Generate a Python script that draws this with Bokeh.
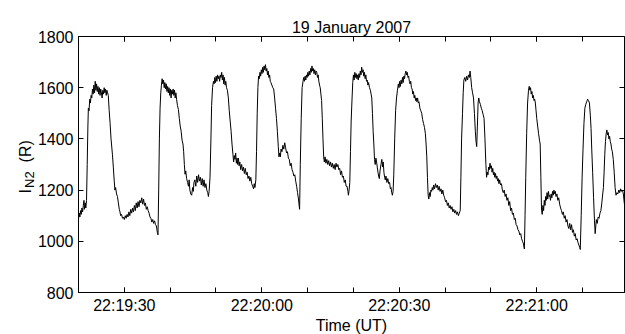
import pandas as pd
from bokeh.plotting import figure
from bokeh.models import (ColumnDataSource, DatetimeTickFormatter, FixedTicker, Range1d,
                          Label, DatetimeAxis, LinearAxis, CustomJSTickFormatter)
from bokeh.embed import file_html
from bokeh.resources import INLINE

# ---------------- data ----------------
title_text = "19 January 2007"
start_time = "2007-01-19 22:19:20"
x_end_s = 119.15
x_label = "Time (UT)"
x_major_labels = ["22:19:30", "22:20:00", "22:20:30", "22:21:00"]
x_tick_step_s = 10
y_ticks = [800, 1000, 1200, 1400, 1600, 1800]

# seconds after 22:19:20 UT
t_sec = [
    0.0, 0.15, 0.3, 0.45, 0.6, 0.75, 0.9, 1.05, 1.2, 1.3,
    1.45, 1.6, 1.75, 1.9, 2.05, 2.15, 2.3, 2.45, 2.6, 2.75,
    2.9, 3.05, 3.2, 3.35, 3.5, 3.65, 3.8, 3.95, 4.1, 4.25,
    4.4, 4.55, 4.7, 4.85, 5.0, 5.15, 5.3, 5.45, 5.6, 5.75,
    5.9, 6.05, 6.2, 6.35, 6.5, 6.7, 6.9, 7.1, 7.4, 7.6,
    7.8, 7.95, 8.1, 8.3, 8.5, 8.7, 8.9, 9.05, 9.2, 9.4,
    9.6, 9.8, 10.0, 10.2, 10.4, 10.6, 10.8, 11.0, 11.2, 11.4,
    11.6, 11.8, 12.0, 12.2, 12.4, 12.6, 12.8, 13.0, 13.2, 13.4,
    13.6, 13.8, 14.0, 14.2, 14.4, 14.6, 14.8, 15.0, 15.2, 15.4,
    15.6, 15.8, 16.0, 16.2, 16.4, 16.6, 16.8, 17.0, 17.2, 17.35,
    17.5, 17.65, 17.8, 17.95, 18.1, 18.25, 18.4, 18.55, 18.7, 18.85,
    19.0, 19.15, 19.3, 19.45, 19.6, 19.75, 19.9, 20.05, 20.2, 20.35,
    20.5, 20.65, 20.8, 20.95, 21.1, 21.25, 21.4, 21.6, 21.8, 22.0,
    22.2, 22.4, 22.6, 22.8, 22.95, 23.1, 23.25, 23.4, 23.6, 23.8,
    24.0, 24.15, 24.3, 24.5, 24.7, 24.9, 25.05, 25.2, 25.4, 25.6,
    25.8, 26.0, 26.2, 26.4, 26.6, 26.8, 27.0, 27.2, 27.4, 27.6,
    27.8, 28.0, 28.2, 28.35, 28.5, 28.7, 28.9, 29.05, 29.25, 29.45,
    29.6, 29.75, 29.9, 30.05, 30.2, 30.35, 30.5, 30.65, 30.8, 30.95,
    31.1, 31.25, 31.4, 31.55, 31.7, 31.85, 32.0, 32.15, 32.3, 32.5,
    32.7, 32.9, 33.1, 33.3, 33.5, 33.7, 33.85, 34.0, 34.15, 34.3,
    34.45, 34.6, 34.75, 34.9, 35.05, 35.2, 35.4, 35.6, 35.8, 36.0,
    36.2, 36.4, 36.6, 36.8, 37.0, 37.2, 37.4, 37.6, 37.8, 38.0,
    38.2, 38.35, 38.5, 38.7, 38.85, 39.0, 39.15, 39.3, 39.45, 39.6,
    39.75, 39.9, 40.05, 40.2, 40.35, 40.5, 40.65, 40.8, 40.95, 41.1,
    41.25, 41.4, 41.55, 41.7, 41.85, 42.0, 42.2, 42.4, 42.6, 42.8,
    43.0, 43.2, 43.4, 43.6, 43.75, 43.9, 44.05, 44.2, 44.4, 44.6,
    44.8, 45.0, 45.2, 45.4, 45.6, 45.8, 46.0, 46.2, 46.4, 46.6,
    46.8, 47.0, 47.2, 47.4, 47.6, 47.8, 48.0, 48.15, 48.25, 48.4,
    48.6, 48.8, 49.0, 49.15, 49.3, 49.45, 49.6, 49.75, 49.9, 50.05,
    50.2, 50.35, 50.5, 50.65, 50.8, 50.95, 51.1, 51.25, 51.4, 51.55,
    51.7, 51.85, 52.0, 52.15, 52.3, 52.45, 52.6, 52.75, 52.9, 53.05,
    53.2, 53.35, 53.5, 53.65, 53.8, 54.0, 54.2, 54.4, 54.6, 54.8,
    55.0, 55.2, 55.4, 55.6, 55.8, 56.0, 56.2, 56.4, 56.6, 56.8,
    57.0, 57.2, 57.4, 57.6, 57.8, 58.0, 58.2, 58.4, 58.6, 58.8,
    58.9, 59.05, 59.2, 59.35, 59.5, 59.7, 59.85, 60.0, 60.15, 60.3,
    60.45, 60.6, 60.75, 60.9, 61.05, 61.2, 61.35, 61.5, 61.65, 61.8,
    61.95, 62.1, 62.25, 62.4, 62.55, 62.7, 62.85, 63.0, 63.15, 63.3,
    63.5, 63.7, 63.85, 64.0, 64.15, 64.3, 64.45, 64.6, 64.75, 64.9,
    65.05, 65.2, 65.35, 65.5, 65.65, 65.8, 66.0, 66.2, 66.35, 66.5,
    66.65, 66.8, 66.95, 67.1, 67.3, 67.5, 67.7, 67.9, 68.05, 68.2,
    68.35, 68.5, 68.65, 68.8, 69.0, 69.2, 69.4, 69.6, 69.8, 69.95,
    70.1, 70.25, 70.4, 70.55, 70.7, 70.85, 71.0, 71.15, 71.3, 71.45,
    71.6, 71.75, 71.9, 72.05, 72.2, 72.35, 72.5, 72.65, 72.8, 72.95,
    73.1, 73.25, 73.4, 73.55, 73.7, 73.85, 74.0, 74.15, 74.3, 74.5,
    74.7, 74.9, 75.1, 75.3, 75.5, 75.7, 75.85, 76.0, 76.15, 76.3,
    76.45, 76.6, 76.75, 76.9, 77.05, 77.2, 77.35, 77.5, 77.7, 77.9,
    78.1, 78.3, 78.5, 78.7, 78.9, 79.1, 79.3, 79.5, 79.7, 79.9,
    80.1, 80.3, 80.5, 80.7, 80.9, 81.1, 81.3, 81.5, 81.7, 81.9,
    82.1, 82.3, 82.5, 82.7, 82.9, 83.1, 83.3, 83.45, 83.6, 83.8,
    83.95, 84.1, 84.3, 84.5, 84.7, 84.9, 85.1, 85.3, 85.45, 85.6,
    85.8, 86.0, 86.2, 86.4, 86.6, 86.75, 86.9, 87.05, 87.2, 87.35,
    87.5, 87.7, 87.9, 88.1, 88.3, 88.5, 88.7, 88.9, 89.05, 89.2,
    89.35, 89.5, 89.65, 89.8, 89.95, 90.1, 90.25, 90.4, 90.55, 90.7,
    90.85, 91.0, 91.15, 91.3, 91.45, 91.6, 91.75, 91.9, 92.1, 92.3,
    92.5, 92.7, 92.9, 93.1, 93.3, 93.5, 93.7, 93.9, 94.1, 94.3,
    94.5, 94.7, 94.9, 95.1, 95.3, 95.5, 95.7, 95.9, 96.1, 96.3,
    96.5, 96.7, 96.9, 97.1, 97.3, 97.45, 97.6, 97.8, 98.0, 98.2,
    98.35, 98.5, 98.65, 98.8, 98.95, 99.1, 99.25, 99.4, 99.55, 99.7,
    99.85, 100.0, 100.2, 100.4, 100.6, 100.75, 100.9, 101.05, 101.2, 101.35,
    101.5, 101.65, 101.8, 101.95, 102.1, 102.25, 102.4, 102.55, 102.7, 102.85,
    103.0, 103.15, 103.3, 103.45, 103.6, 103.75, 103.9, 104.05, 104.2, 104.4,
    104.6, 104.8, 105.0, 105.2, 105.4, 105.6, 105.8, 106.0, 106.2, 106.4,
    106.6, 106.8, 107.0, 107.2, 107.4, 107.6, 107.8, 108.0, 108.2, 108.4,
    108.6, 108.8, 109.0, 109.2, 109.4, 109.5, 109.7, 109.9, 110.1, 110.3,
    110.5, 110.7, 110.9, 111.1, 111.3, 111.5, 111.7, 111.85, 112.0, 112.2,
    112.4, 112.6, 112.75, 113.0, 113.2, 113.4, 113.6, 113.8, 114.0, 114.2,
    114.4, 114.55, 114.7, 114.85, 115.0, 115.15, 115.3, 115.45, 115.6, 115.75,
    115.9, 116.05, 116.2, 116.35, 116.5, 116.7, 116.9, 117.1, 117.3, 117.5,
    117.7, 117.9, 118.1, 118.3, 118.5, 118.7, 118.9, 119.1, 119.3,
]

# N2 emission intensity (R)
intensity = [
    1085, 1110, 1095, 1120, 1105, 1130, 1115, 1140, 1160, 1125,
    1150, 1130, 1160, 1300, 1450, 1520, 1510, 1555, 1540, 1570,
    1560, 1595, 1575, 1610, 1580, 1625, 1590, 1615, 1585, 1605,
    1575, 1600, 1570, 1595, 1580, 1560, 1590, 1575, 1600, 1580,
    1595, 1570, 1590, 1580, 1570, 1510, 1460, 1400, 1340, 1290,
    1235, 1200, 1210, 1185, 1175, 1150, 1125, 1115, 1100, 1105,
    1090, 1095, 1085, 1100, 1090, 1105, 1095, 1115, 1100, 1125,
    1110, 1130, 1115, 1140, 1120, 1150, 1130, 1155, 1135, 1160,
    1150, 1170, 1145, 1165, 1140, 1150, 1125, 1135, 1120, 1110,
    1095, 1090, 1075, 1085, 1070, 1080, 1065, 1060, 1035, 1025,
    1200, 1400, 1520, 1580, 1610, 1635, 1615, 1630, 1600, 1620,
    1595, 1615, 1585, 1605, 1580, 1600, 1570, 1595, 1560, 1590,
    1575, 1595, 1570, 1590, 1560, 1580, 1555, 1530, 1515, 1480,
    1450, 1430, 1395, 1380, 1350, 1300, 1262, 1275, 1245, 1230,
    1215, 1240, 1200, 1185, 1180, 1210, 1195, 1230, 1240, 1215,
    1255, 1230, 1260, 1235, 1250, 1220, 1245, 1215, 1240, 1210,
    1225, 1200, 1190, 1175, 1195, 1250, 1400, 1530, 1600, 1625,
    1615, 1640, 1620, 1645, 1625, 1650, 1635, 1645, 1625, 1650,
    1640, 1660, 1630, 1650, 1615, 1640, 1610, 1625, 1600, 1590,
    1560, 1510, 1470, 1430, 1380, 1340, 1310, 1335, 1320, 1345,
    1305, 1325, 1300, 1325, 1295, 1310, 1280, 1300, 1275, 1290,
    1265, 1285, 1260, 1270, 1245, 1255, 1235, 1250, 1225, 1215,
    1205, 1225, 1210, 1240, 1350, 1500, 1600, 1645, 1635, 1660,
    1645, 1670, 1655, 1680, 1660, 1685, 1670, 1690, 1665, 1675,
    1650, 1665, 1640, 1650, 1625, 1620, 1610, 1600, 1595, 1560,
    1520, 1480, 1430, 1370, 1330, 1345, 1330, 1360, 1350, 1375,
    1360, 1385, 1365, 1345, 1350, 1325, 1320, 1295, 1305, 1280,
    1270, 1255, 1260, 1235, 1215, 1190, 1165, 1140, 1125, 1300,
    1480, 1600, 1625, 1640, 1625, 1645, 1630, 1650, 1640, 1660,
    1645, 1665, 1650, 1675, 1660, 1685, 1665, 1675, 1655, 1670,
    1650, 1665, 1660, 1640, 1650, 1625, 1610, 1600, 1575, 1550,
    1480, 1400, 1330, 1310, 1330, 1305, 1320, 1300, 1315, 1295,
    1310, 1290, 1305, 1285, 1300, 1280, 1305, 1290, 1300, 1280,
    1285, 1260, 1275, 1250, 1255, 1230, 1240, 1215, 1215, 1195,
    1180, 1200, 1230, 1350, 1470, 1560, 1620, 1650, 1630, 1660,
    1640, 1655, 1635, 1650, 1630, 1655, 1640, 1665, 1650, 1680,
    1660, 1670, 1645, 1660, 1635, 1650, 1625, 1630, 1610, 1620,
    1600, 1590, 1575, 1560, 1500, 1430, 1380, 1320, 1300, 1325,
    1310, 1290, 1270, 1255, 1245, 1275, 1300, 1320, 1290, 1310,
    1270, 1250, 1240, 1255, 1230, 1245, 1225, 1230, 1205, 1210,
    1190, 1180, 1195, 1260, 1400, 1510, 1560, 1590, 1615, 1600,
    1625, 1605, 1630, 1615, 1640, 1620, 1645, 1635, 1655, 1665,
    1650, 1660, 1640, 1645, 1625, 1615, 1625, 1600, 1595, 1575,
    1585, 1560, 1570, 1550, 1560, 1545, 1560, 1540, 1545, 1520,
    1510, 1500, 1475, 1460, 1445, 1420, 1380, 1330, 1250, 1180,
    1165, 1190, 1175, 1200, 1195, 1210, 1200, 1220, 1205, 1225,
    1210, 1220, 1200, 1215, 1195, 1205, 1185, 1200, 1180, 1170,
    1155, 1160, 1140, 1150, 1130, 1140, 1125, 1135, 1115, 1125,
    1110, 1120, 1105, 1115, 1100, 1110, 1120, 1250, 1400, 1500,
    1580, 1630, 1640, 1625, 1645, 1630, 1650, 1640, 1665, 1640,
    1600, 1580, 1560, 1500, 1430, 1390, 1370, 1450, 1540, 1560,
    1545, 1535, 1520, 1510, 1495, 1480, 1400, 1300, 1250, 1270,
    1260, 1290, 1280, 1305, 1285, 1295, 1270, 1285, 1260, 1270,
    1250, 1265, 1245, 1255, 1235, 1245, 1225, 1240, 1220, 1225,
    1200, 1190, 1200, 1175, 1185, 1160, 1170, 1140, 1155, 1120,
    1130, 1105, 1110, 1085, 1090, 1065, 1060, 1045, 1040, 1025,
    1030, 1010, 1000, 990, 970, 1100, 1250, 1420, 1540, 1590,
    1605, 1590, 1600, 1575, 1585, 1560, 1570, 1550, 1555, 1540,
    1510, 1480, 1450, 1420, 1395, 1380, 1250, 1120, 1105, 1140,
    1120, 1160, 1140, 1175, 1160, 1190, 1165, 1195, 1175, 1180,
    1160, 1185, 1170, 1195, 1180, 1200, 1185, 1195, 1175, 1185,
    1160, 1170, 1145, 1130, 1120, 1105, 1115, 1090, 1100, 1075,
    1085, 1060, 1050, 1070, 1045, 1065, 1035, 1045, 1020, 1030,
    1005, 1010, 995, 985, 975, 968, 1100, 1250, 1360, 1460,
    1520, 1535, 1545, 1555, 1550, 1540, 1490, 1440, 1360, 1270,
    1170, 1080, 1030, 1085, 1070, 1095, 1090, 1110, 1120, 1150,
    1185, 1210, 1270, 1340, 1390, 1420, 1435, 1415, 1425, 1400,
    1410, 1390, 1380, 1360, 1350, 1320, 1270, 1210, 1180, 1190,
    1185, 1200, 1190, 1205, 1195, 1200, 1185, 1150, 1130,
]
assert len(t_sec) == len(intensity)

# y-axis label: "I" + gap for the subscript + "(R)", and the subscript "N2"
ylabel_main = "I\u00a0\u00a0\u00a0\u00a0\u00a0\u00a0(R)"
ylabel_sub = "N2"

# ---------------- build ----------------
FONT = "Liberation Sans"
FRAME_W, FRAME_H = 546, 256
base = pd.Timestamp(start_time)
day = start_time.split(" ")[0]


def to_ms(ts):
    return ts.value / 1e6


times = base + pd.to_timedelta(t_sec, unit="s")
source = ColumnDataSource(dict(time=times, intensity=intensity))

major_ticks = [to_ms(pd.Timestamp(day + " " + s)) for s in x_major_labels]
minor_ticks = [to_ms(base + pd.Timedelta(seconds=k)) for k in range(0, int(x_end_s) + 1, x_tick_step_s)]
x_ticker = FixedTicker(ticks=major_ticks, minor_ticks=minor_ticks)

p = figure(
    x_axis_type="datetime",
    frame_width=FRAME_W, frame_height=FRAME_H,
    min_border_left=78, min_border_right=1, min_border_top=36, min_border_bottom=42,
    x_range=Range1d(to_ms(base), to_ms(base + pd.Timedelta(seconds=x_end_s))),
    y_range=Range1d(y_ticks[0], y_ticks[-1]),
    output_backend="svg", toolbar_location=None,
    background_fill_color="white", border_fill_color="white",
)
p.outline_line_color = "black"
p.outline_line_width = 1
p.grid.visible = False

p.title.text = title_text
p.title.align = "center"
p.title.text_font = FONT
p.title.text_font_size = "16px"
p.title.text_font_style = "normal"
p.title.text_color = "black"
p.title.standoff = 1

fmt = "%H:%M:%S"
xa = p.xaxis[0]
xa.ticker = x_ticker
xa.formatter = DatetimeTickFormatter(seconds=fmt, minsec=fmt, minutes=fmt, hourmin=fmt, hours=fmt,
                                     milliseconds=fmt)
xa.axis_label = x_label
xa.axis_label_standoff = 0
xa.major_label_standoff = 4

ya = p.yaxis[0]
ya.ticker = FixedTicker(ticks=y_ticks, minor_ticks=[])
ya.major_label_standoff = 5

for ax in (xa, ya):
    ax.axis_line_color = "black"
    ax.major_tick_in = 5
    ax.major_tick_out = 0
    ax.minor_tick_in = 5
    ax.minor_tick_out = 0
    ax.major_tick_line_color = "black"
    ax.minor_tick_line_color = "black"
    ax.major_label_text_font = FONT
    ax.major_label_text_font_size = "16px"
    ax.major_label_text_color = "black"
    ax.axis_label_text_font = FONT
    ax.axis_label_text_font_size = "16px"
    ax.axis_label_text_font_style = "normal"
    ax.axis_label_text_color = "black"

# mirrored ticks on top and right (no labels)
blank = CustomJSTickFormatter(code="return ''")
top = DatetimeAxis(ticker=x_ticker, formatter=blank, axis_line_color=None,
                   major_tick_in=5, major_tick_out=0, minor_tick_in=5, minor_tick_out=0,
                   major_label_standoff=0, major_label_text_font_size="1px")
p.add_layout(top, "above")
right = LinearAxis(ticker=FixedTicker(ticks=y_ticks, minor_ticks=[]), formatter=blank,
                   axis_line_color=None, major_tick_in=5, major_tick_out=0,
                   minor_tick_in=0, minor_tick_out=0,
                   major_label_standoff=0, major_label_text_font_size="1px")
p.add_layout(right, "right")

p.line("time", "intensity", source=source, line_color="black", line_width=1)

# place the rotated y label by converting pixel offsets from the frame to data units
sec_per_px = x_end_s / FRAME_W
val_per_px = (y_ticks[-1] - y_ticks[0]) / FRAME_H


def x_at(px_from_frame_left):
    return to_ms(base + pd.Timedelta(seconds=px_from_frame_left * sec_per_px))


def y_at(px_above_frame_bottom):
    return y_ticks[0] + px_above_frame_bottom * val_per_px


main_lab = Label(x=x_at(-53), y=y_at(99), text=ylabel_main, angle=1.5708,
                 text_color="black", text_font=FONT, text_font_size="16px",
                 text_baseline="alphabetic", text_align="left")
sub_lab = Label(x=x_at(-49), y=y_at(104.5), text=ylabel_sub, angle=1.5708,
                text_color="black", text_font=FONT, text_font_size="13px",
                text_baseline="alphabetic", text_align="left")
p.add_layout(main_lab, "left")
p.add_layout(sub_lab, "left")

open("out.html", "w").write(file_html(p, INLINE))
